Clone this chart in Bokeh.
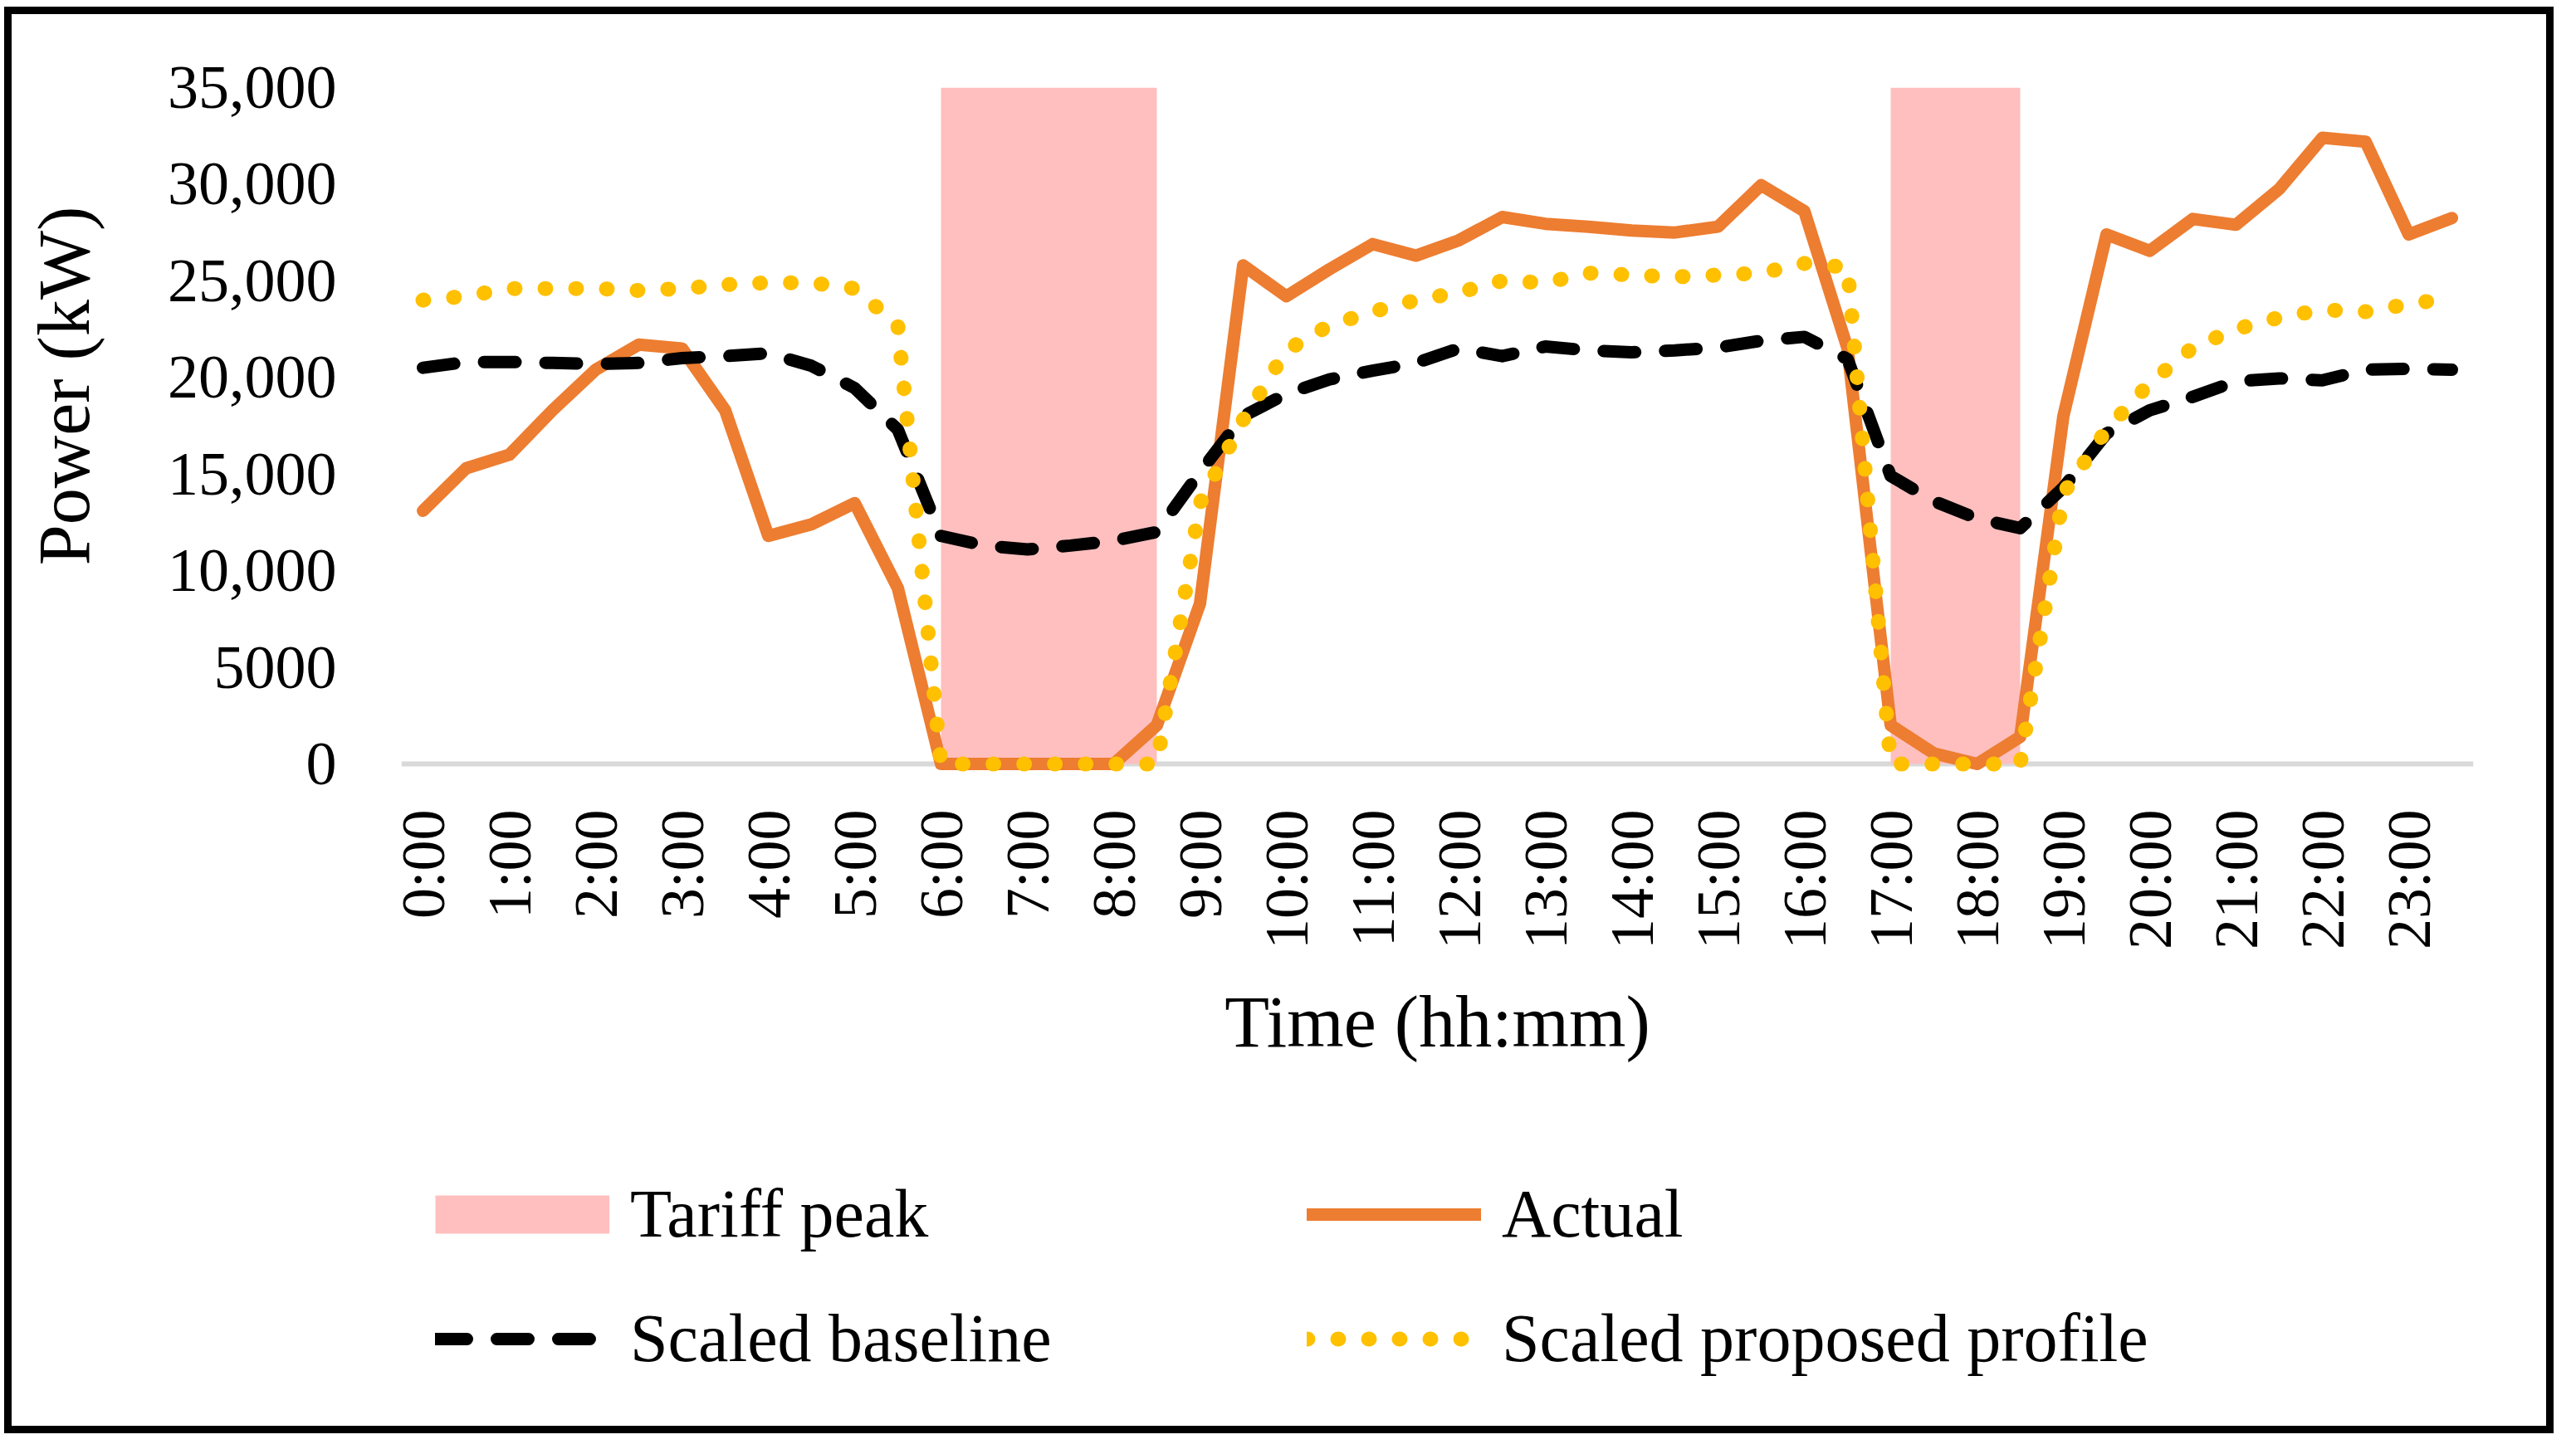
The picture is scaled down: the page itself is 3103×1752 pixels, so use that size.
from math import pi
from bokeh.plotting import figure
from bokeh.models import FixedTicker, Span, Legend, LegendItem, Spacer
from bokeh.layouts import column, row
from bokeh.embed import file_html
from bokeh.resources import INLINE

# ---- data ----
hours = [0, 0.5, 1, 1.5, 2, 2.5, 3, 3.5, 4, 4.5, 5, 5.5,
         6, 6.5, 7, 7.5, 8, 8.5, 9, 9.5, 10, 10.5, 11, 11.5,
         12, 12.5, 13, 13.5, 14, 14.5, 15, 15.5, 16, 16.5, 17, 17.5,
         18, 18.5, 19, 19.5, 20, 20.5, 21, 21.5, 22, 22.5, 23, 23.5]

tick_hours = [0, 1, 2, 3, 4, 5, 6, 7, 8, 9, 10, 11,
              12, 13, 14, 15, 16, 17, 18, 19, 20, 21, 22, 23]
tick_labels = ["0:00", "1:00", "2:00", "3:00", "4:00", "5:00", "6:00", "7:00",
               "8:00", "9:00", "10:00", "11:00", "12:00", "13:00", "14:00", "15:00",
               "16:00", "17:00", "18:00", "19:00", "20:00", "21:00", "22:00", "23:00"]

actual = [13100, 15300, 16000, 18300, 20400, 21700, 21500, 18300, 11800, 12400, 13500, 9100,
          0, 0, 0, 0, 0, 2000, 8300, 25800, 24200, 25600, 26900, 26300,
          27100, 28300, 27950, 27800, 27600, 27500, 27800, 29950, 28600, 21500, 2000, 550,
          0, 1400, 18000, 27400, 26550, 28200, 27900, 29750, 32400, 32200, 27400, 28250]

baseline = [20500, 20800, 20800, 20750, 20700, 20750, 21000, 21100, 21250, 20600, 19450, 17300,
            11800, 11300, 11100, 11300, 11550, 12000, 15100, 18000, 19150, 19900, 20350, 20750,
            21500, 21100, 21600, 21400, 21300, 21400, 21550, 21900, 22100, 20950, 14900, 13600,
            12700, 12200, 14300, 17100, 18300, 19000, 19800, 19950, 19850, 20400, 20450, 20400]

proposed = [24000, 24200, 24600, 24600, 24600, 24500, 24600, 24800, 24900, 24900, 24600, 22700,
            0, 0, 0, 0, 0, 0, 13500, 17800, 21400, 22700, 23400, 24000,
            24400, 25000, 24900, 25400, 25300, 25200, 25300, 25400, 25900, 25700, 0, 0,
            0, 0, 14000, 17300, 19700, 21550, 22500, 23100, 23500, 23400, 23800, 24100]

peak_start = [6.0, 17.0]
peak_end = [8.5, 18.5]
peak_top = [35000, 35000]

y_ticks = [0, 5000, 10000, 15000, 20000, 25000, 30000, 35000]
y_tick_labels = ["0", "5000", "10,000", "15,000", "20,000", "25,000", "30,000", "35,000"]

FONT = "Liberation Serif"
PINK = "#FFBFBF"
ORANGE = "#ED7D31"
YELLOW = "#FFC000"

W = 3053
H1 = 1290
H2 = 411

# ---------------- main chart ----------------
p = figure(width=W, height=H1,
           x_range=(-0.25, 23.75), y_range=(-600, 35000),
           output_backend="svg", toolbar_location=None,
           min_border_left=469, min_border_right=88,
           min_border_top=88, min_border_bottom=H1 - 917)
p.outline_line_color = None
p.xgrid.visible = False
p.ygrid.visible = False
p.background_fill_color = "white"
p.border_fill_color = "white"

xa = p.xaxis[0]
xa.ticker = FixedTicker(ticks=tick_hours)
xa.major_label_overrides = dict(zip(tick_hours, tick_labels))
xa.major_label_orientation = pi / 2
xa.major_label_text_font = FONT
xa.major_label_text_font_size = "74px"
xa.major_label_text_color = "black"
xa.major_label_standoff = 41
xa.major_tick_out = 0
xa.major_tick_in = 0
xa.minor_tick_out = 0
xa.minor_tick_in = 0
xa.axis_line_color = None
xa.axis_label = "Time (hh:mm)"
xa.axis_label_text_font = FONT
xa.axis_label_text_font_size = "88px"
xa.axis_label_text_font_style = "normal"
xa.axis_label_text_color = "black"
xa.axis_label_standoff = 36

ya = p.yaxis[0]
ya.ticker = FixedTicker(ticks=y_ticks)
ya.major_label_overrides = dict(zip(y_ticks, y_tick_labels))
ya.major_label_text_font = FONT
ya.major_label_text_font_size = "74px"
ya.major_label_text_color = "black"
ya.major_label_standoff = 78
ya.major_tick_out = 0
ya.major_tick_in = 0
ya.minor_tick_out = 0
ya.minor_tick_in = 0
ya.axis_line_color = None
ya.axis_label = "\u00a0" * 5 + "Power (kW)"
ya.axis_label_text_font = FONT
ya.axis_label_text_font_size = "88px"
ya.axis_label_text_font_style = "normal"
ya.axis_label_text_color = "black"
ya.axis_label_standoff = 73

p.quad(left=peak_start, right=peak_end, bottom=0, top=peak_top,
       fill_color=PINK, line_color=None)
p.add_layout(Span(location=0, dimension="width", line_color="#D9D9D9",
                  line_width=6, level="underlay"))
p.line(hours, actual, line_color=ORANGE, line_width=15,
       line_join="round", line_cap="round")
p.line(hours, baseline, line_color="black", line_width=15,
       line_dash="38 36", line_join="round", line_cap="round")
p.line(hours, proposed, line_color=YELLOW, line_width=18,
       line_dash="1 36", line_join="round", line_cap="round")

# ---------------- legend panel ----------------
# legend renderers carry the same series, but this panel's ranges keep them out of view
q = figure(width=W, height=H2, x_range=(-0.25, 23.75), y_range=(100000, 200000),
           x_axis_type=None, y_axis_type=None,
           output_backend="svg", toolbar_location=None,
           min_border_left=0, min_border_right=0, min_border_top=0, min_border_bottom=0)
q.outline_line_color = None
q.xgrid.visible = False
q.ygrid.visible = False
q.background_fill_color = "white"
q.border_fill_color = "white"

l_peak = q.line(peak_start, peak_top, line_color=PINK, line_width=46, line_cap="butt")
l_act = q.line(hours, actual, line_color=ORANGE, line_width=15, line_cap="round")
l_base = q.line(hours, baseline, line_color="black", line_width=15,
                line_dash="38 36", line_cap="round")
l_prop = q.line(hours, proposed, line_color=YELLOW, line_width=18,
                line_dash="1 36", line_cap="round")

legend = Legend(items=[
    LegendItem(label="Tariff peak", renderers=[l_peak]),
    LegendItem(label="Actual", renderers=[l_act]),
    LegendItem(label="Scaled baseline", renderers=[l_base]),
    LegendItem(label="Scaled proposed profile", renderers=[l_prop]),
], location=(41, 40), orientation="horizontal", ncols=2,
    glyph_width=210, glyph_height=130, label_height=130, label_width=795,
    label_standoff=25, spacing=20, padding=0, margin=0,
    background_fill_alpha=0, border_line_alpha=0,
    label_text_font=FONT, label_text_font_size="82px", label_text_color="black")
q.add_layout(legend, "center")

inner = column(p, q, spacing=0, styles={"border": "9px solid black"})
page = column(Spacer(height=8), row(Spacer(width=5), inner))

open("out.html", "w").write(file_html(page, INLINE))
